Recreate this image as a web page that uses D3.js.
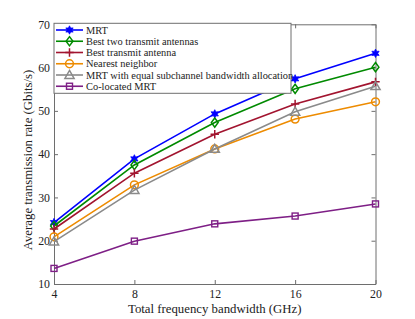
<!DOCTYPE html>
<html><head><meta charset="utf-8">
<script src="https://cdn.jsdelivr.net/npm/d3@7"></script>
<style>body{margin:0;background:#fff}svg{display:block}svg text{font-family:"Liberation Serif","Times New Roman",Times,serif}</style>
</head><body><div id="c"></div>
<script>
const bandwidth = [4, 8, 12, 16, 20];
const seriesNames = ["MRT","Best two transmit antennas","Best transmit antenna","Nearest neighbor","MRT with equal subchannel bandwidth allocation","Co-located MRT"];
const mrt = [24.2, 38.9, 49.3, 57.4, 63.3];
const bestTwo = [23.4, 37.5, 47.3, 55.1, 60.1];
const bestOne = [22.7, 35.6, 44.6, 51.6, 56.7];
const nearest = [20.9, 32.9, 41.2, 48.1, 52.1];
const equalBw = [19.8, 31.7, 41.2, 49.8, 55.7];
const colocated = [13.6, 19.9, 23.9, 25.7, 28.5];
const yTicks = [10, 20, 30, 40, 50, 60, 70];
const xTicks = [4, 8, 12, 16, 20];

const W = 415, H = 319;
const m = {l:54, r:39.5, t:24.3, b:35};
const svg = d3.select("#c").append("svg").attr("width", W).attr("height", H);
const x = d3.scaleLinear().domain([4,20]).range([m.l, W-m.r]);
const y = d3.scaleLinear().domain([10,70]).range([H-m.b, m.t]);
const font = '"Liberation Serif","Times New Roman",Times,serif';
const axisColor = "#6e6e6e";

const series = [
  {name: seriesNames[0], vals: mrt, color: "#0000ff", marker: "star"},
  {name: seriesNames[1], vals: bestTwo, color: "#008a00", marker: "diamond"},
  {name: seriesNames[2], vals: bestOne, color: "#a2142f", marker: "plus"},
  {name: seriesNames[3], vals: nearest, color: "#ed8b00", marker: "circle"},
  {name: seriesNames[4], vals: equalBw, color: "#8a8a8a", marker: "triangle"},
  {name: seriesNames[5], vals: colocated, color: "#7e1f86", marker: "square"}
];

const xAxis = d3.axisBottom(x).tickValues(xTicks).tickSizeInner(-4).tickSizeOuter(0).tickPadding(6);
const yAxis = d3.axisLeft(y).tickValues(yTicks).tickSizeInner(-4).tickSizeOuter(0).tickPadding(4);
const xTop = d3.axisTop(x).tickValues(xTicks).tickSizeInner(-4).tickSizeOuter(0).tickFormat("");
const yRight = d3.axisRight(y).tickValues(yTicks).tickSizeInner(-4).tickSizeOuter(0).tickFormat("");
function styleAxis(g){
  g.attr("font-family", font);
  g.selectAll("path").attr("stroke", axisColor).attr("stroke-width", 1);
  g.selectAll("line").attr("stroke", axisColor);
  g.selectAll("text").style("font-family", font).style("font-size", "11.8px").attr("fill", "#222");
}
svg.append("g").attr("transform", `translate(0,${H-m.b})`).call(xAxis).call(styleAxis);
svg.append("g").attr("transform", `translate(${m.l},0)`).call(yAxis).call(styleAxis);
svg.append("g").attr("transform", `translate(0,${m.t})`).call(xTop).call(styleAxis);
svg.append("g").attr("transform", `translate(${W-m.r},0)`).call(yRight).call(styleAxis);

svg.append("text").attr("x", (m.l + W - m.r)/2).attr("y", 313).attr("text-anchor","middle")
  .style("font-family", font).style("font-size", "12.8px").attr("fill","#222").text("Total frequency bandwidth (GHz)");
svg.append("text").attr("transform", `translate(32,160) rotate(-90)`).attr("text-anchor","middle")
  .style("font-family", font).style("font-size", "12.8px").attr("fill","#222").text("Average transmission rate (Gbits/s)");

function drawMarker(g, type, color, cx, cy){
  if (type === "star"){
    const pts = [];
    for (let i=0;i<12;i++){ const r = i%2===0 ? 4.2 : 2.2; const a = -Math.PI/2 + i*Math.PI/6; pts.push([cx + r*Math.cos(a), cy + r*Math.sin(a)]); }
    g.append("polygon").attr("points", pts.map(p=>p.join(",")).join(" ")).attr("fill", color).attr("stroke", color).attr("stroke-width", 0.8);
  } else if (type === "diamond"){
    g.append("path").attr("d", `M${cx},${cy-4.6}L${cx+3.4},${cy}L${cx},${cy+4.6}L${cx-3.4},${cy}Z`).attr("fill","none").attr("stroke", color).attr("stroke-width", 1.5);
  } else if (type === "plus"){
    g.append("path").attr("d", `M${cx-4.2},${cy}H${cx+4.2}M${cx},${cy-4.2}V${cy+4.2}`).attr("stroke", color).attr("stroke-width", 1.5);
  } else if (type === "circle"){
    g.append("circle").attr("cx", cx).attr("cy", cy).attr("r", 3.9).attr("fill","none").attr("stroke", color).attr("stroke-width", 1.5);
  } else if (type === "triangle"){
    g.append("path").attr("d", `M${cx},${cy-4.6}L${cx+4.6},${cy+3.4}L${cx-4.6},${cy+3.4}Z`).attr("fill","none").attr("stroke", color).attr("stroke-width", 1.5);
  } else if (type === "square"){
    g.append("rect").attr("x", cx-3).attr("y", cy-3).attr("width", 6).attr("height", 6).attr("fill","none").attr("stroke", color).attr("stroke-width", 1.4);
  }
}

const line = d3.line().x((d,i)=>x(bandwidth[i])).y(d=>y(d));
series.forEach(s=>{
  const g = svg.append("g");
  g.append("path").datum(s.vals).attr("d", line).attr("fill","none").attr("stroke", s.color).attr("stroke-width", 1.6);
  s.vals.forEach((v,i)=>drawMarker(g, s.marker, s.color, x(bandwidth[i]), y(v)));
});

const lg = svg.append("g");
const lx = m.l, ly = m.t - 1, lw = 237, lh = 70;
lg.append("rect").attr("x", lx).attr("y", ly).attr("width", lw).attr("height", lh).attr("fill","#fff").attr("stroke", axisColor).attr("stroke-width", 1);
series.forEach((s,i)=>{
  const cy = 30 + i*11.25;
  lg.append("line").attr("x1", 56).attr("x2", 83).attr("y1", cy).attr("y2", cy).attr("stroke", s.color).attr("stroke-width", 1.6);
  drawMarker(lg, s.marker, s.color, 69.5, cy);
  lg.append("text").attr("x", 86).attr("y", cy + 3.6).style("font-family", font).style("font-size", "10.4px").attr("fill","#222").text(s.name);
});
</script></body></html>
